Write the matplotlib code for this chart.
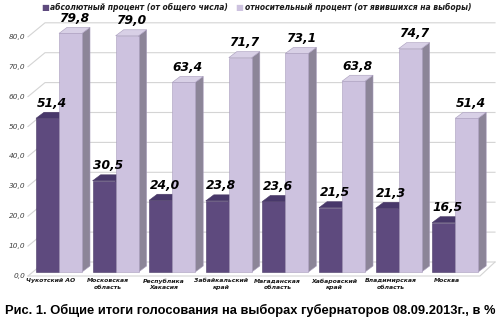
import matplotlib.pyplot as plt
import numpy as np

regions = ['Чукотский АО', 'Московская\nобласть', 'Республика\nХакасия',
           'Забайкальский\nкрай', 'Магаданская\nобласть', 'Хабаровский\nкрай',
           'Владимирская\nобласть', 'Москва']
absolute = [51.4, 30.5, 24.0, 23.8, 23.6, 21.5, 21.3, 16.5]
relative = [79.8, 79.0, 63.4, 71.7, 73.1, 63.8, 74.7, 51.4]
ticks = [0, 10, 20, 30, 40, 50, 60, 70, 80]
series_names = ['абсолютный процент (от общего числа)',
                'относительный процент (от явившихся на выборы)']

W, H = 500, 322
fig = plt.figure(figsize=(W / 100, H / 100), dpi=100)

# data scale: one group per unit on x, percent on y
px_x = 56.6          # pixels per group
px_y = 2.99          # pixels per percent
x0_px = 59           # pixel x of first group centre
y0_px = 272          # pixel y (from top) of bar base
xlim = (-x0_px / px_x, (W - x0_px) / px_x)
ymin, ymax = -15.0, 88.0
bottom_px = (H - y0_px) + ymin * px_y
ax = fig.add_axes([0, bottom_px / H, 1, (ymax - ymin) * px_y / H])
ax.set_xlim(*xlim)
ax.set_ylim(ymin, ymax)
ax.axis('off')

bw = 23 / px_x                    # bar width
bdx, bdy = 8 / px_x, 6 / px_y     # bar depth
wall_front_x, wall_back_x = -31 / px_x, -14 / px_x
wall_right_x = (495 - x0_px) / px_x
floor_right_x = (480 - x0_px) / px_x
front_dy, back_dy = -4 / px_y, 10 / px_y
grid_c = '#d4d4d4'

# walls: gridlines run back along the left wall then across the back
for t in ticks:
    ax.plot([wall_front_x, wall_back_x, wall_right_x],
            [t + front_dy, t + back_dy, t + back_dy], color=grid_c, lw=0.8, zorder=1)
    ax.text(wall_front_x - 0.05, t + front_dy, f'{t:.1f}'.replace('.', ','),
            ha='right', va='center', fontsize=5.3, style='italic', color='#404040')
# floor front edge and right edge
ax.plot([wall_front_x, floor_right_x, wall_right_x],
        [front_dy, front_dy, back_dy], color=grid_c, lw=0.8, zorder=1)


def bar3d(x, h, face, side, top, edge):
    ax.add_patch(plt.Polygon([(x + bw, 0), (x + bw + bdx, bdy), (x + bw + bdx, h + bdy), (x + bw, h)],
                             closed=True, fc=side, ec=edge, lw=0.4, zorder=3))
    ax.add_patch(plt.Polygon([(x, h), (x + bdx, h + bdy), (x + bw + bdx, h + bdy), (x + bw, h)],
                             closed=True, fc=top, ec=edge, lw=0.4, zorder=3))
    ax.add_patch(plt.Rectangle((x, 0), bw, h, fc=face, ec=edge, lw=0.4, zorder=3))


for i in range(len(regions)):
    # dark bar first so the light bar hides its side
    bar3d(i - bw, absolute[i], '#5e4a7e', '#3f3057', '#48386a', '#4a3a66')
    bar3d(i, relative[i], '#cdc2df', '#8c8598', '#d8d0e6', '#a89cbc')
    for x, v in [(i - bw, absolute[i]), (i, relative[i])]:
        ax.text(x + bw / 2 + bdx / 2, v + bdy + 0.8, f'{v:.1f}'.replace('.', ','),
                ha='center', va='bottom', fontsize=8.8, fontweight='bold',
                style='italic', color='black', zorder=5)
    ax.text(i - 8 / px_x, front_dy - 0.8, regions[i], ha='center', va='top',
            fontsize=4.4, fontweight='bold', style='italic', color='#1a1a1a',
            linespacing=1.35)

# legend across the top
fig.text(0.082, 0.977, '■', fontsize=6, color='#5e4a7e', ha='left', va='center')
fig.text(0.1, 0.977, series_names[0], fontsize=5.5, fontweight='bold',
         style='italic', color='#1a1a1a', ha='left', va='center')
fig.text(0.471, 0.977, '■', fontsize=6, color='#cdc2df', ha='left', va='center')
fig.text(0.49, 0.977, series_names[1], fontsize=5.5, fontweight='bold',
         style='italic', color='#1a1a1a', ha='left', va='center')

fig.text(0.5, 0.035, 'Рис. 1. Общие итоги голосования на выборах губернаторов 08.09.2013г., в %',
         ha='center', va='center', fontsize=9.3, fontweight='bold',
         family='Liberation Sans', color='black')

fig.savefig('out.png', dpi=100)
